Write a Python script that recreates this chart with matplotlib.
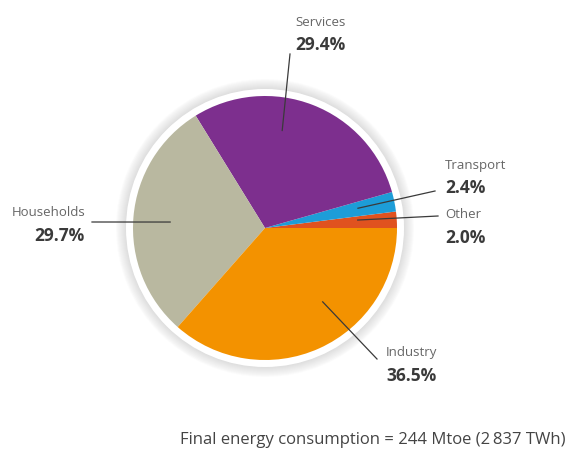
import numpy as np
import matplotlib.pyplot as plt
from matplotlib.patches import Circle

plt.rcParams['font.family'] = ['Open Sans', 'DejaVu Sans']

# final energy consumption shares, counter-clockwise from 3 o'clock
sectors = ['Other', 'Transport', 'Services', 'Households', 'Industry']
shares = [2.0, 2.4, 29.4, 29.7, 36.5]
colors = ['#E0521F', '#1D9DD8', '#7D2F8E', '#B9B8A0', '#F39200']
footer = 'Final energy consumption = 244 Mtoe (2\u2009837 TWh)'

W, H = 568, 452
CX, CY, R = 265, 223, 132

# label anchor, alignment, leader line start (angle in deg, radius fraction) and end
label_style = {
    'Services':   dict(xy=(295, 430), ha='left', start=(80, 0.75), end=(290, 397)),
    'Transport':  dict(xy=(445, 287), ha='left', start=(12, 0.72), end=(435, 260)),
    'Other':      dict(xy=(445, 237), ha='left', start=(4.9, 0.705), end=(438, 235)),
    'Households': dict(xy=(85, 239), ha='right', start=(176.4, 0.72), end=(92, 229)),
    'Industry':   dict(xy=(386, 99), ha='left', start=(308, 0.71), end=(377, 92)),
}

fig = plt.figure(figsize=(W / 100, H / 100), dpi=100)
ax = fig.add_axes([0, 0, 1, 1])

# soft shadow and white rim behind the pie
for rr in np.linspace(149, 139, 11):
    ax.add_patch(Circle((CX, CY), rr, color='#9a9a9a', alpha=0.03, lw=0, zorder=0))
ax.add_patch(Circle((CX, CY), 139, color='white', lw=0, zorder=1))

wedges, _ = ax.pie(shares, colors=colors, startangle=0, counterclock=True,
                   center=(CX, CY), radius=R, frame=True,
                   wedgeprops=dict(linewidth=0, zorder=2))
ax.set_xlim(0, W)
ax.set_ylim(0, H)
ax.set_aspect('equal')
ax.axis('off')

for name, val in zip(sectors, shares):
    st = label_style[name]
    ang = np.deg2rad(st['start'][0])
    x0 = CX + st['start'][1] * R * np.cos(ang)
    y0 = CY + st['start'][1] * R * np.sin(ang)
    x1, y1 = st['end']
    ax.plot([x0, x1], [y0, y1], color='#3a3a3a', lw=0.9, zorder=4)
    tx, ty = st['xy']
    ax.text(tx, ty, name, ha=st['ha'], va='center', fontsize=9.5,
            color='#666666', zorder=5)
    ax.text(tx, ty - 23, f'{val:.1f}%', ha=st['ha'], va='center', fontsize=12.5,
            fontweight='bold', color='#3a3a3a', zorder=5)

ax.text(565, 12, footer, ha='right', va='center', fontsize=12, color='#444444')

fig.savefig('out.png', dpi=100)
